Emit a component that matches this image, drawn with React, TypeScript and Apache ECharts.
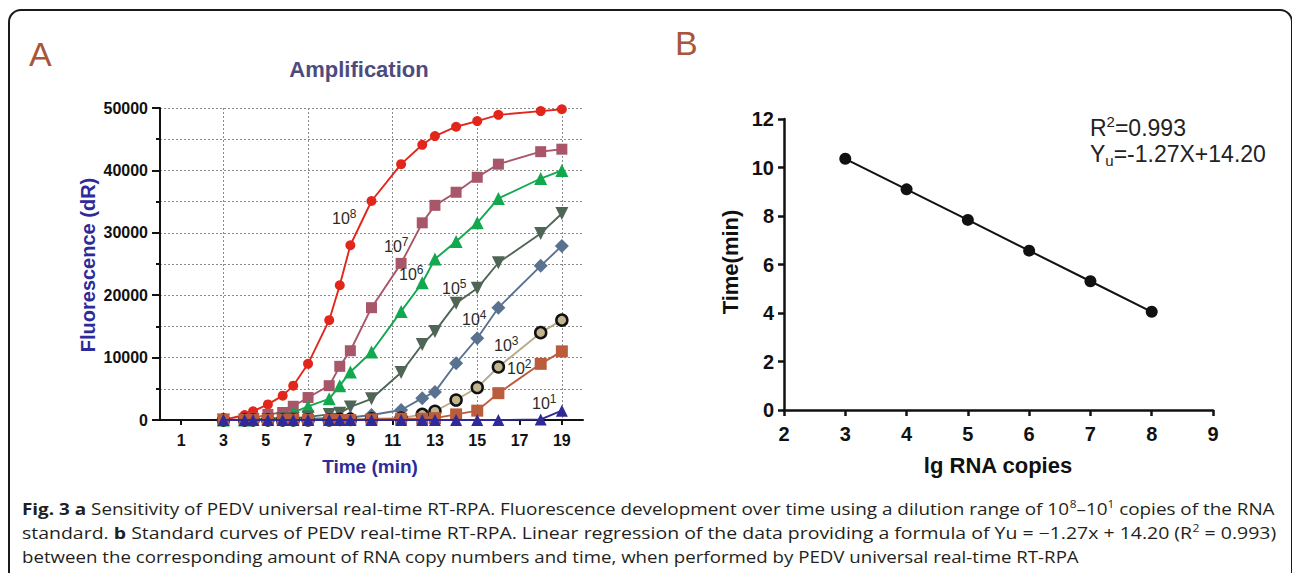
import React, { useEffect, useRef } from 'react';
import * as echarts from 'echarts';

// ---------- Panel A data ----------
const timeMin = [3, 4, 4.4, 5.1, 5.8, 6.3, 7, 8, 8.5, 9, 10, 11.4, 12.4, 13, 14, 15, 16, 18, 19];
const copies1e8 = [0, 800, 1400, 2500, 3900, 5500, 9000, 16000, 21600, 28000, 35100, 41000, 44100, 45500, 47000, 47900, 48900, 49500, 49800];
const copies1e7 = [0, 100, 300, 900, 1200, 2200, 3600, 5500, 8600, 11100, 18000, 25100, 31600, 34400, 36500, 38900, 41000, 43000, 43400];
const copies1e6 = [0, 0, 100, 200, 400, 1200, 2200, 3400, 5500, 7700, 10900, 17400, 22000, 25800, 28600, 31600, 35500, 38700, 40000];
const copies1e5 = [0, 0, 0, 100, 200, 300, 500, 900, 1100, 2100, 3400, 7600, 12100, 14200, 18700, 21100, 25200, 29900, 33100];
const copies1e4 = [0, 0, 0, 0, 0, 100, 200, 300, 300, 400, 800, 1600, 3500, 4500, 9100, 13100, 18000, 24700, 27900];
const copies1e3 = [0, 0, 0, 0, 0, 0, 0, 0, 100, 100, 200, 300, 900, 1400, 3200, 5200, 8500, 14000, 16000];
const copies1e2 = [0, 0, 0, 0, 0, 0, 0, 0, 0, 0, 100, 200, 200, 300, 900, 1500, 4300, 9000, 11000];
const copies1e1 = [0, 0, 0, 0, 0, 0, 0, 0, 0, 0, 0, 0, 0, 0, 0, 0, 0, 100, 1500];
const dilutionExp = ['8', '7', '6', '5', '4', '3', '2', '1'];
const xTicksA = [1, 3, 5, 7, 9, 11, 13, 15, 17, 19];

// ---------- Panel B data ----------
const lgCopies = [3, 4, 5, 6, 7, 8];
const detectTime = [10.36, 9.1, 7.84, 6.57, 5.31, 4.05];

const SANS = '"Liberation Sans", Arial, Helvetica, sans-serif';
const CAP = '"Open Sans", "Noto Sans", sans-serif';

const seriesDefs = [
  { data: copies1e8, color: '#e3261b', symbol: 'circle', size: 10 },
  { data: copies1e7, color: '#a8566a', symbol: 'rect', size: 11 },
  { data: copies1e6, color: '#12a84e', symbol: 'triangle', size: 13 },
  { data: copies1e5, color: '#4f6556', symbol: 'triangle', size: 13, rotate: 180 },
  { data: copies1e4, color: '#587290', symbol: 'diamond', size: 14 },
  { data: copies1e3, color: '#b8aa8c', fill: '#c2b48c', border: '#111', borderWidth: 2.5, symbol: 'circle', size: 11 },
  { data: copies1e2, color: '#bb5d3c', symbol: 'rect', size: 12 },
  { data: copies1e1, color: '#2f2a97', symbol: 'triangle', size: 12 },
];

// label positions (left, top) for 10^n labels
const labelPos = [
  [332, 208], [384, 236], [399, 264], [442, 278], [462, 309], [494, 335], [507, 358], [532, 393],
];

type Seg = [string, 'n' | 'b' | 's'];
const capLines: { segs: Seg[]; width: number; y: number }[] = [
  {
    segs: [
      ['Fig. 3 a', 'b'],
      [' Sensitivity of PEDV universal real-time RT-RPA. Fluorescence development over time using a dilution range of 10', 'n'],
      ['8', 's'],
      ['–10', 'n'],
      ['1', 's'],
      [' copies of the RNA', 'n'],
    ],
    width: 1253,
    y: 509,
  },
  {
    segs: [
      ['standard. ', 'n'],
      ['b', 'b'],
      [' Standard curves of PEDV real-time RT-RPA. Linear regression of the data providing a formula of Yu = −1.27x + 14.20 (R', 'n'],
      ['2', 's'],
      [' = 0.993)', 'n'],
    ],
    width: 1254,
    y: 533,
  },
  {
    segs: [['between the corresponding amount of RNA copy numbers and time, when performed by PEDV universal real-time RT-RPA', 'n']],
    width: 1058,
    y: 557,
  },
];

const CF = 16;
const CS = 10;

function measure(segs: Seg[]): number {
  const ctx = document.createElement('canvas').getContext('2d');
  if (!ctx) return 1;
  let w = 0;
  for (const [t, k] of segs) {
    ctx.font = k === 'b' ? `bold ${CF}px ${CAP}` : k === 's' ? `${CS}px ${CAP}` : `${CF}px ${CAP}`;
    w += ctx.measureText(t).width;
  }
  return w || 1;
}

// alternate transparent / grey so vertical grid lines sit on odd minutes only
const vGridColors = ['rgba(0,0,0,0)', '#8a8a8a'];

export default function App() {
  const ref = useRef<HTMLDivElement>(null);
  useEffect(() => {
    if (!ref.current) return;
    const chart = echarts.init(ref.current, undefined, { renderer: 'svg' });

    const seriesA = seriesDefs.map((d, si) => ({
      type: 'line',
      xAxisIndex: 0,
      yAxisIndex: 0,
      data: timeMin.map((t, i) => [t, d.data[i]]),
      symbol: d.symbol,
      symbolSize: d.size,
      symbolRotate: d.rotate || 0,
      showAllSymbol: true,
      lineStyle: { color: d.color, width: 1.9 },
      itemStyle: {
        color: d.fill || d.color,
        borderColor: d.border || d.color,
        borderWidth: d.borderWidth || 0,
        opacity: 1,
      },
      z: 2 + si,
      emphasis: { disabled: true },
    }));

    const labelEls = dilutionExp.map((e, i) => ({
      type: 'text',
      x: labelPos[i][0],
      y: labelPos[i][1],
      z: 100,
      style: {
        text: `{a|10}{s|${e}}`,
        verticalAlign: 'top',
        align: 'left',
        rich: {
          a: { fontSize: 16, fontFamily: SANS, fill: '#2a2a2a', lineHeight: 20 },
          s: { fontSize: 12, fontFamily: SANS, fill: '#2a2a2a', lineHeight: 12, verticalAlign: 'top' },
        },
      },
    }));

    const capEls = capLines.map((l) => ({
      type: 'text',
      x: 22,
      y: l.y,
      scaleX: l.width / measure(l.segs),
      style: {
        text: l.segs.map(([t, k]) => `{${k}|${t}}`).join(''),
        verticalAlign: 'middle',
        align: 'left',
        rich: {
          n: { fontSize: CF, fontFamily: CAP, fill: '#231f20', lineHeight: 20 },
          b: { fontSize: CF, fontFamily: CAP, fill: '#231f20', fontWeight: 'bold', lineHeight: 20 },
          s: { fontSize: CS, fontFamily: CAP, fill: '#231f20', lineHeight: 10, verticalAlign: 'top' },
        },
      },
    }));

    const option: any = {
      animation: false,
      backgroundColor: '#fff',
      textStyle: { fontFamily: SANS },
      grid: [
        { left: 160, top: 108, width: 423, height: 312, containLabel: false, outerBoundsMode: 'none' },
        { left: 784, top: 119, width: 429, height: 291, containLabel: false, outerBoundsMode: 'none' },
      ],
      xAxis: [
        {
          gridIndex: 0,
          type: 'value',
          min: 0,
          max: 20,
          interval: 1,
          axisLine: { show: true, onZero: false, lineStyle: { color: '#111', width: 2 } },
          axisTick: { show: true, length: 5, customValues: xTicksA, lineStyle: { color: '#111', width: 2 } },
          axisLabel: {
            customValues: xTicksA,
            margin: 12,
            fontSize: 16,
            fontWeight: 'bold',
            color: '#111',
            fontFamily: SANS,
          },
          splitLine: { show: true, lineStyle: { color: vGridColors, type: [2, 2], width: 1 } },
        },
        {
          gridIndex: 1,
          type: 'value',
          min: 2,
          max: 9,
          interval: 1,
          axisLine: { show: true, onZero: false, lineStyle: { color: '#111', width: 2.5 } },
          axisTick: { show: true, length: 6, lineStyle: { color: '#111', width: 2.5 } },
          axisLabel: { margin: 14, fontSize: 20, fontWeight: 'bold', color: '#111', fontFamily: SANS },
          splitLine: { show: false },
        },
      ],
      yAxis: [
        {
          gridIndex: 0,
          type: 'value',
          min: 0,
          max: 50000,
          interval: 10000,
          axisLine: { show: true, onZero: false, lineStyle: { color: '#111', width: 2 } },
          axisTick: { show: true, length: 8, lineStyle: { color: '#111', width: 2 } },
          minorTick: { show: true, splitNumber: 2, length: 4, lineStyle: { color: '#111', width: 2 } },
          axisLabel: {
            margin: 12,
            fontSize: 16,
            fontWeight: 'bold',
            color: '#111',
            fontFamily: SANS,
            formatter: (v: number) => String(v),
          },
          splitLine: { show: true, showMinLine: false, lineStyle: { color: '#8a8a8a', type: [2, 2], width: 1 } },
          minorSplitLine: { show: true, lineStyle: { color: '#8a8a8a', type: [2, 2], width: 1 } },
        },
        {
          gridIndex: 1,
          type: 'value',
          min: 0,
          max: 12,
          interval: 2,
          axisLine: { show: true, onZero: false, lineStyle: { color: '#111', width: 2.5 } },
          axisTick: { show: true, length: 6, lineStyle: { color: '#111', width: 2.5 } },
          axisLabel: { margin: 10, fontSize: 20, fontWeight: 'bold', color: '#111', fontFamily: SANS },
          splitLine: { show: false },
        },
      ],
      series: [
        ...seriesA,
        {
          type: 'line',
          xAxisIndex: 1,
          yAxisIndex: 1,
          data: lgCopies.map((x, i) => [x, detectTime[i]]),
          symbol: 'circle',
          symbolSize: 12,
          lineStyle: { color: '#111', width: 2 },
          itemStyle: { color: '#111' },
          emphasis: { disabled: true },
        },
      ],
      graphic: [
        {
          type: 'rect',
          shape: { x: 9, y: 10, width: 1283, height: 640, r: 12 },
          style: { fill: 'none', stroke: '#1a1a1a', lineWidth: 2 },
          z: 0,
        },
        {
          type: 'text', x: 29, y: 54,
          style: { text: 'A', fontSize: 34, fontFamily: SANS, fill: '#a8563b', verticalAlign: 'middle', align: 'left' },
        },
        {
          type: 'text', x: 675, y: 43,
          style: { text: 'B', fontSize: 34, fontFamily: SANS, fill: '#a8563b', verticalAlign: 'middle', align: 'left' },
        },
        {
          type: 'text', x: 359, y: 69,
          style: { text: 'Amplification', fontSize: 22, fontWeight: 'bold', fontFamily: SANS, fill: '#4d4b7d', verticalAlign: 'middle', align: 'center' },
        },
        {
          type: 'text', x: 88, y: 265, rotation: Math.PI / 2,
          style: { text: 'Fluorescence (dR)', fontSize: 20, fontWeight: 'bold', fontFamily: SANS, fill: '#2d2a9a', verticalAlign: 'middle', align: 'center' },
        },
        {
          type: 'text', x: 370, y: 466,
          style: { text: 'Time (min)', fontSize: 19, fontWeight: 'bold', fontFamily: SANS, fill: '#2d2a9a', verticalAlign: 'middle', align: 'center' },
        },
        {
          type: 'text', x: 730, y: 262, rotation: Math.PI / 2,
          style: { text: 'Time(min)', fontSize: 22, fontWeight: 'bold', fontFamily: SANS, fill: '#111', verticalAlign: 'middle', align: 'center' },
        },
        {
          type: 'text', x: 998, y: 465,
          style: { text: 'lg RNA copies', fontSize: 22, fontWeight: 'bold', fontFamily: SANS, fill: '#111', verticalAlign: 'middle', align: 'center' },
        },
        {
          type: 'text', x: 1090, y: 114,
          style: {
            text: '{a|R}{s|2}{a|=0.993}',
            verticalAlign: 'top', align: 'left',
            rich: {
              a: { fontSize: 23, fontFamily: SANS, fill: '#222', lineHeight: 28 },
              s: { fontSize: 15, fontFamily: SANS, fill: '#222', lineHeight: 15, verticalAlign: 'top' },
            },
          },
        },
        {
          type: 'text', x: 1090, y: 140,
          style: {
            text: '{a|Y}{u|u}{a|=-1.27X+14.20}',
            verticalAlign: 'top', align: 'left',
            rich: {
              a: { fontSize: 23, fontFamily: SANS, fill: '#222', lineHeight: 28 },
              u: { fontSize: 15, fontFamily: SANS, fill: '#222', lineHeight: 15, verticalAlign: 'bottom' },
            },
          },
        },
        ...labelEls,
        ...capEls,
      ],
    };
    chart.setOption(option);
    return () => chart.dispose();
  }, []);

  return (
    <div
      ref={ref}
      style={{ position: 'fixed', left: 0, top: 0, width: 1292, height: 573, background: '#fff' }}
    />
  );
}
